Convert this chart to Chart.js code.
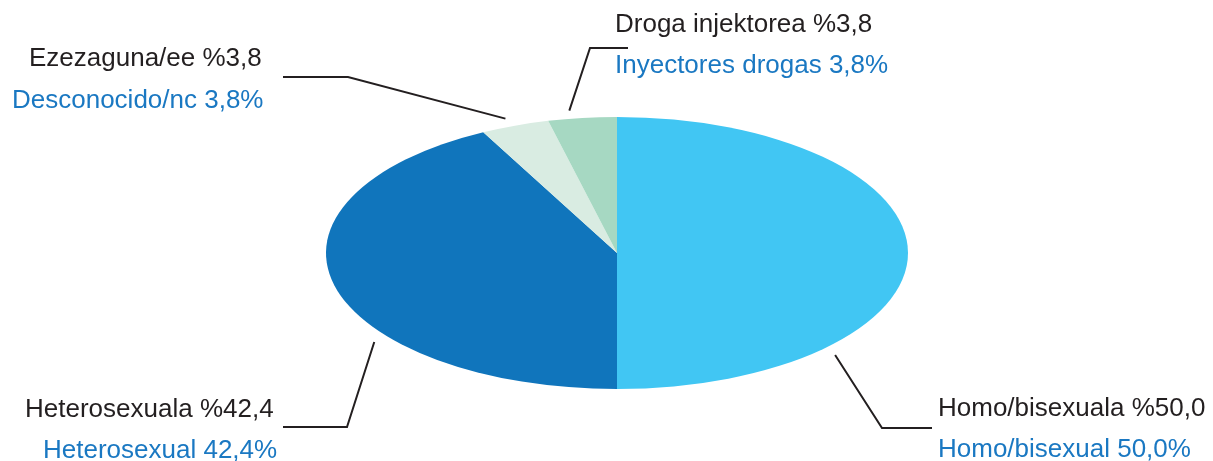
<!DOCTYPE html>
<html>
<head>
<meta charset="utf-8">
<script src="https://cdn.jsdelivr.net/npm/chart.js@4/dist/chart.umd.min.js"></script>
<style>
  html, body { margin: 0; padding: 0; background: #fff; }
  #wrap { width: 1213px; height: 461px; }
</style>
</head>
<body>
<div id="wrap"><canvas id="pie" width="1213" height="461"></canvas></div>
<script>
/* ===================== DATA ===================== */
const categories = ["Homo/bisexual", "Heterosexual", "Desconocido/nc", "Inyectores drogas"];
const values = [50.0, 42.4, 3.8, 3.8];
const labelsEu = ["Homo/bisexuala %50,0", "Heterosexuala %42,4", "Ezezaguna/ee %3,8", "Droga injektorea %3,8"];
const labelsEs = ["Homo/bisexual 50,0%", "Heterosexual 42,4%", "Desconocido/nc 3,8%", "Inyectores drogas 3,8%"];
const colors = ["#41c6f3", "#1075bc", "#d9ece2", "#a6d8c2"];

/* ===================== LAYOUT ===================== */
const ELLIPSE = { cx: 617, cy: 253, rx: 291, ry: 136 };
const FONT = '26px "Liberation Sans", Arial, sans-serif';
const BLACK = "#231f20", BLUE = "#1a78c2";

// label text positions + leader: t = fraction along slice, elbow, end
const labelPos = [
  { x: 938, y: 416, x2: 938, y2: 457, t: 0.75, elbow: [882, 428], end: [932, 428] },
  { x: 25,  y: 417, x2: 43,  y2: 458, t: 0.34, elbow: [347, 427], end: [283, 427] },
  { x: 29,  y: 66,  x2: 12,  y2: 108, t: 0.45, elbow: [348, 77],  end: [283, 77] },
  { x: 615, y: 32,  x2: 615, y2: 73,  t: 0.35, elbow: [590, 48],  end: [628, 48] }
];

/* ===================== ELLIPSE PLUGIN ===================== */
function toScreen(arc, angle, f) {
  return [
    ELLIPSE.cx + ELLIPSE.rx * Math.cos(angle) * f,
    ELLIPSE.cy + ELLIPSE.ry * Math.sin(angle) * f
  ];
}

const ellipsePie = {
  id: "ellipsePie",
  beforeDatasetsDraw(chart) {
    const arc = chart.getDatasetMeta(0).data[0];
    const ctx = chart.ctx;
    ctx.save();
    ctx.translate(ELLIPSE.cx, ELLIPSE.cy);
    ctx.scale(ELLIPSE.rx / arc.outerRadius, ELLIPSE.ry / arc.outerRadius);
    ctx.translate(-arc.x, -arc.y);
  },
  afterDatasetsDraw(chart) {
    chart.ctx.restore();
  },
  afterDraw(chart) {
    const ctx = chart.ctx;
    const arcs = chart.getDatasetMeta(0).data;

    ctx.save();
    ctx.strokeStyle = BLACK;
    ctx.lineWidth = 2;
    ctx.lineJoin = "miter";
    arcs.forEach((a, i) => {
      const p = labelPos[i];
      const ang = a.startAngle + (a.endAngle - a.startAngle) * p.t;
      const s = toScreen(a, ang, 1.06);
      ctx.beginPath();
      ctx.moveTo(s[0], s[1]);
      ctx.lineTo(p.elbow[0], p.elbow[1]);
      ctx.lineTo(p.end[0], p.end[1]);
      ctx.stroke();
    });

    ctx.font = FONT;
    ctx.textBaseline = "alphabetic";
    ctx.textAlign = "left";
    labelPos.forEach((p, i) => {
      ctx.fillStyle = BLACK;
      ctx.fillText(labelsEu[i], p.x, p.y);
      ctx.fillStyle = BLUE;
      ctx.fillText(labelsEs[i], p.x2, p.y2);
    });
    ctx.restore();
  }
};

/* ===================== CHART ===================== */
new Chart(document.getElementById("pie"), {
  type: "pie",
  data: {
    labels: categories,
    datasets: [{
      data: values,
      backgroundColor: colors,
      borderWidth: 0
    }]
  },
  options: {
    responsive: false,
    animation: false,
    events: [],
    plugins: {
      legend: { display: false },
      tooltip: { enabled: false }
    }
  },
  plugins: [ellipsePie]
});
</script>
</body>
</html>
